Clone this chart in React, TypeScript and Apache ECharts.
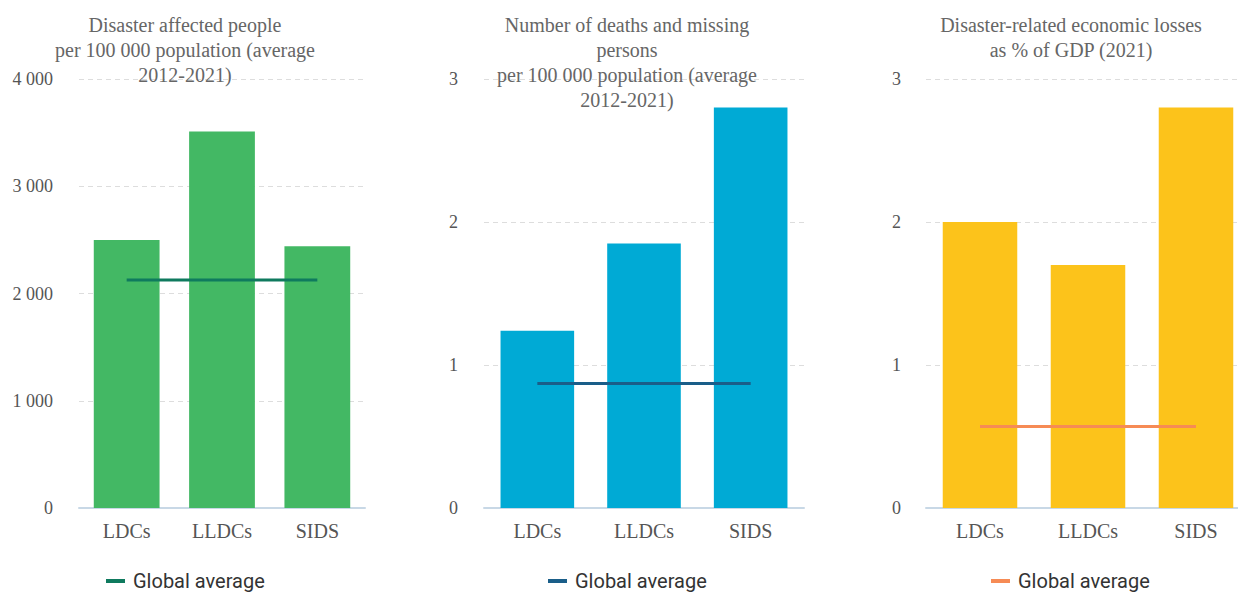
import React, { useEffect, useRef } from "react";
import * as echarts from "echarts";

const categories = ["LDCs", "LLDCs", "SIDS"];

const affectedValues = [2500, 3510, 2440];
const affectedGlobal = [2125, 2125, 2125];

const deathsValues = [1.24, 1.85, 2.8];
const deathsGlobal = [0.87, 0.87, 0.87];

const lossesValues = [2.0, 1.7, 2.8];
const lossesGlobal = [0.57, 0.57, 0.57];

const titles = [
  "Disaster affected people\nper 100 000 population (average\n2012-2021)",
  "Number of deaths and missing\npersons\nper 100 000 population (average\n2012-2021)",
  "Disaster-related economic losses\nas % of GDP (2021)",
];

const legendLabel = "Global average";

const SERIF = "'Liberation Serif', 'Times New Roman', serif";
const SANS = "Roboto, 'Noto Sans', sans-serif";

export default function App() {
  const ref = useRef<HTMLDivElement>(null);

  useEffect(() => {
    if (!ref.current) return;
    const chart = echarts.init(ref.current, undefined, { renderer: "svg" });

    const grids = [
      { left: 79, top: 79, width: 286, height: 429, outerBoundsMode: "none" },
      { left: 484, top: 79, width: 320, height: 429, outerBoundsMode: "none" },
      { left: 926, top: 79, width: 324, height: 429, outerBoundsMode: "none" },
    ];

    const xAxes = grids.map((_, i) => ({
      type: "category",
      gridIndex: i,
      data: categories,
      axisTick: { show: false },
      axisLine: { lineStyle: { color: "#c8d8e6", width: 2 } },
      axisLabel: { fontFamily: SERIF, fontSize: 20, color: "#555", margin: 13 },
    }));

    const yBase = {
      type: "value",
      axisLine: { show: false },
      axisTick: { show: false },
      splitLine: { lineStyle: { color: "#dddddd", type: [5, 4], width: 1 } },
    };

    const fmtThousands = (v: number) =>
      String(v).replace(/\B(?=(\d{3})+(?!\d))/g, " ");

    const yAxes = [
      {
        ...yBase,
        gridIndex: 0,
        min: 0,
        max: 4000,
        interval: 1000,
        axisLabel: { fontFamily: SERIF, fontSize: 18, color: "#555", margin: 26, formatter: fmtThousands },
      },
      {
        ...yBase,
        gridIndex: 1,
        min: 0,
        max: 3,
        interval: 1,
        axisLabel: { fontFamily: SERIF, fontSize: 18, color: "#555", margin: 26 },
      },
      {
        ...yBase,
        gridIndex: 2,
        min: 0,
        max: 3,
        interval: 1,
        axisLabel: { fontFamily: SERIF, fontSize: 18, color: "#555", margin: 25 },
      },
    ];

    const barColors = ["#43b864", "#00aad5", "#fcc31b"];
    const lineColors = ["#0f7a5e", "#1a5e89", "#f68b55"];
    const barData = [affectedValues, deathsValues, lossesValues];
    const lineData = [affectedGlobal, deathsGlobal, lossesGlobal];
    const names = ["ga1", "ga2", "ga3"];

    const series: any[] = [];
    for (let i = 0; i < 3; i++) {
      series.push({
        type: "bar",
        name: "bar" + i,
        xAxisIndex: i,
        yAxisIndex: i,
        data: barData[i],
        barWidth: "69%",
        itemStyle: { color: barColors[i] },
        z: 2,
      });
      series.push({
        type: "line",
        name: names[i],
        xAxisIndex: i,
        yAxisIndex: i,
        data: lineData[i],
        symbol: "none",
        lineStyle: { color: lineColors[i], width: 3 },
        itemStyle: { color: lineColors[i] },
        z: 3,
      });
    }

    const legendLefts = [101, 543, 986];
    const legends = legendLefts.map((l, i) => ({
      left: l,
      top: 566,
      data: [{ name: names[i], icon: "rect" }],
      itemWidth: 19,
      itemHeight: 4,
      itemGap: 8,
      formatter: () => legendLabel,
      textStyle: { fontFamily: SANS, fontSize: 20, color: "#333", padding: [0, 0, 0, 3] },
      selectedMode: false,
    }));

    const titleCenters = [185, 627, 1071];
    const graphics = titles.map((t, i) => ({
      type: "text",
      x: titleCenters[i],
      y: 12,
      style: {
        text: t,
        align: "center",
        verticalAlign: "top",
        fontFamily: SERIF,
        fontSize: 20,
        lineHeight: 25,
        fill: "#666",
      },
      z: 10,
    }));

    chart.setOption({
      animation: false,
      backgroundColor: "#ffffff",
      grid: grids,
      xAxis: xAxes,
      yAxis: yAxes,
      series,
      legend: legends,
      graphic: graphics,
    });

    return () => chart.dispose();
  }, []);

  return (
    <div
      ref={ref}
      style={{ position: "fixed", left: 0, top: 0, width: 1238, height: 593, overflow: "hidden" }}
    />
  );
}
